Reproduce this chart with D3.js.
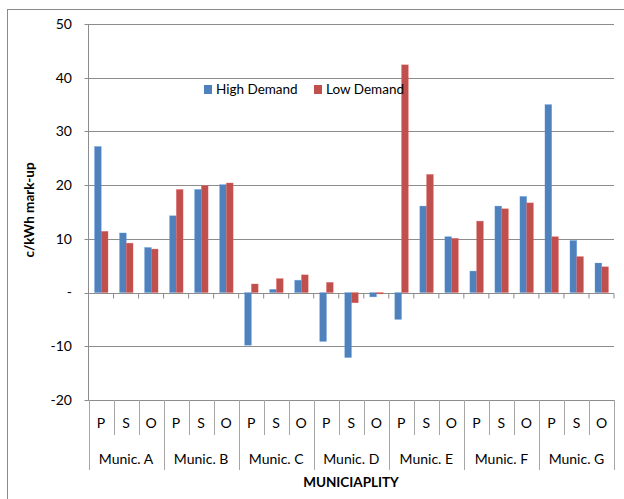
<!DOCTYPE html>
<html>
<head>
<meta charset="utf-8">
<script src="https://cdn.jsdelivr.net/npm/d3@7"></script>
<style>
  html, body { margin: 0; padding: 0; background: #fff; }
  svg { display: block; }
  text { font-family: Lato, "Open Sans", sans-serif; fill: #000; }
</style>
</head>
<body>
<svg id="chart" width="624" height="499"></svg>
<script>
// Municipalities and the three tariff periods shown for each
const municipalities = ["Munic. A", "Munic. B", "Munic. C", "Munic. D", "Munic. E", "Munic. F", "Munic. G"];
const periods = ["P", "S", "O"];

// Mark-up in c/kWh, ordered A-P, A-S, A-O, B-P, ...
const highDemand = [27.2, 11.1, 8.4,  14.3, 19.2, 20.1,  -9.8, 0.6, 2.3,  -9.1, -12.1, -0.8,  -5.0, 16.1, 10.4,  4.0, 16.1, 17.9,  35.0, 9.7, 5.5];
const lowDemand  = [11.4, 9.2, 8.1,  19.2, 19.9, 20.4,   1.6, 2.6, 3.3,   1.9,  -1.9, -0.25, 42.4, 22.0, 10.1, 13.3, 15.6, 16.7, 10.4, 6.7, 4.8];

const seriesNames = ["High Demand", "Low Demand"];
const seriesColors = ["#4F81BD", "#C0504D"];

const yTicks = [-20, -10, 0, 10, 20, 30, 40, 50];
const yTickLabels = ["-20", "-10", "-", "10", "20", "30", "40", "50"];

const svg = d3.select("#chart");

// Outer chart frame
svg.append("rect")
  .attr("x", 7.5).attr("y", 9.5)
  .attr("width", 700).attr("height", 600)
  .attr("fill", "none").attr("stroke", "#8a8a8a").attr("stroke-width", 1);

const plot = { left: 88.5, right: 614, top: 24, bottom: 400 };

// One slot per municipality/period pair
const slots = [];
municipalities.forEach((m, i) => periods.forEach((p, j) => slots.push({ m, p, idx: i * 3 + j })));

const x = d3.scaleBand()
  .domain(slots.map(d => d.idx))
  .range([plot.left, plot.right])
  .paddingInner(0).paddingOuter(0);

const bw = x.bandwidth();
const xInner = d3.scaleBand()
  .domain([0, 1])
  .range([bw * 0.24, bw * 0.78]);

const y = d3.scaleLinear().domain([-20, 50]).range([plot.bottom, plot.top]);

// Horizontal gridlines
svg.append("g")
  .selectAll("line")
  .data(yTicks)
  .join("line")
  .attr("x1", plot.left - 4).attr("x2", plot.right)
  .attr("y1", d => Math.round(y(d)) + 0.5).attr("y2", d => Math.round(y(d)) + 0.5)
  .attr("stroke", "#8c8c8c").attr("stroke-width", 1);

// Y tick labels
svg.append("g")
  .selectAll("text")
  .data(yTicks)
  .join("text")
  .attr("x", 72)
  .attr("y", d => y(d))
  .attr("dy", "0.35em")
  .attr("text-anchor", "end")
  .attr("font-size", 14)
  .text((d, i) => yTickLabels[i]);

// Bars
const bars = svg.append("g");
[highDemand, lowDemand].forEach((vals, s) => {
  bars.selectAll(null)
    .data(slots)
    .join("rect")
    .attr("x", d => x(d.idx) + xInner(s))
    .attr("width", xInner.bandwidth())
    .attr("y", d => y(Math.max(0, vals[d.idx])))
    .attr("height", d => Math.abs(y(vals[d.idx]) - y(0)))
    .attr("fill", seriesColors[s])
    .attr("stroke", d3.color(seriesColors[s]).brighter(0.6))
    .attr("stroke-opacity", 0.5)
    .attr("stroke-width", 0.6);
});

// Vertical value axis line
svg.append("line")
  .attr("x1", plot.left).attr("x2", plot.left)
  .attr("y1", plot.top).attr("y2", plot.bottom)
  .attr("stroke", "#8c8c8c");

// Category axis at zero with tick marks between slots
const y0 = Math.round(y(0)) + 0.5;
svg.append("g")
  .selectAll("line")
  .data(d3.range(slots.length + 1))
  .join("line")
  .attr("x1", i => i < slots.length ? x(i) : plot.right)
  .attr("x2", i => i < slots.length ? x(i) : plot.right)
  .attr("y1", y0).attr("y2", y0 + 5)
  .attr("stroke", "#8c8c8c");

// Multi-level category labels under the plot
const labelGrid = svg.append("g");
const boundaryX = i => Math.round(i < slots.length ? x(i) : plot.right) + 0.5;
labelGrid.selectAll("line")
  .data(d3.range(slots.length + 1))
  .join("line")
  .attr("x1", boundaryX).attr("x2", boundaryX)
  .attr("y1", plot.bottom)
  .attr("y2", i => i % 3 === 0 ? 470 : 435)
  .attr("stroke", "#a6a6a6");

svg.append("g")
  .selectAll("text")
  .data(slots)
  .join("text")
  .attr("x", d => x(d.idx) + bw / 2)
  .attr("y", 428)
  .attr("text-anchor", "middle")
  .attr("font-size", 14)
  .text(d => d.p);

svg.append("g")
  .selectAll("text")
  .data(municipalities)
  .join("text")
  .attr("x", (d, i) => (x(i * 3) + (i * 3 + 3 < slots.length ? x(i * 3 + 3) : plot.right)) / 2)
  .attr("y", 464)
  .attr("text-anchor", "middle")
  .attr("font-size", 14)
  .text(d => d);

// Axis titles
svg.append("text")
  .attr("x", 351).attr("y", 487)
  .attr("text-anchor", "middle")
  .attr("font-size", 13.5)
  .attr("font-weight", "bold")
  .text("MUNICIAPLITY");

svg.append("text")
  .attr("transform", "translate(34,210) rotate(-90)")
  .attr("text-anchor", "middle")
  .attr("font-size", 13.5)
  .attr("font-weight", "bold")
  .text("c/kWh mark-up");

// Legend
const legendX = [204, 314];
const legend = svg.append("g");
seriesNames.forEach((name, i) => {
  legend.append("rect")
    .attr("x", legendX[i]).attr("y", 85)
    .attr("width", 8).attr("height", 9)
    .attr("fill", seriesColors[i]);
  legend.append("text")
    .attr("x", legendX[i] + 12).attr("y", 94)
    .attr("font-size", 13.5)
    .text(name);
});
</script>
</body>
</html>
